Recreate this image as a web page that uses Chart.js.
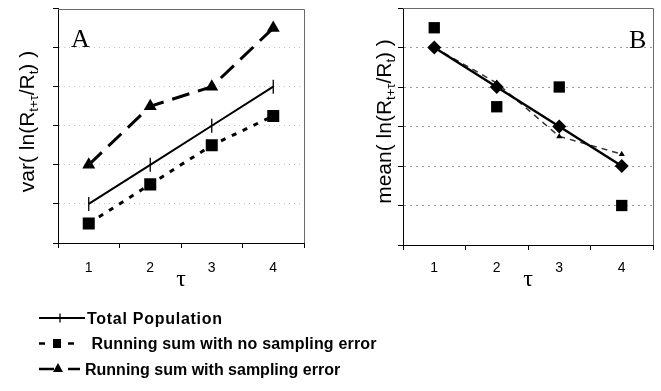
<!DOCTYPE html>
<html><head><meta charset="utf-8">
<script src="https://cdn.jsdelivr.net/npm/chart.js@4/dist/chart.umd.min.js"></script>
<style>
html,body{margin:0;padding:0;background:#fff}
body{width:661px;height:391px;overflow:hidden;position:relative}
#wa{position:absolute;left:0;top:0;width:330px;height:300px}
#wb{position:absolute;left:330px;top:0;width:331px;height:300px}
#leg{position:absolute;left:0;top:290px;width:661px;height:101px}
</style></head>
<body>
<div id="wa"><canvas id="ca"></canvas></div>
<div id="wb"><canvas id="cb"></canvas></div>
<svg id="leg" width="661" height="101" xmlns="http://www.w3.org/2000/svg">
  <g stroke="#000" fill="#000">
    <line x1="39" y1="28" x2="85" y2="28" stroke-width="2"/>
    <line x1="60" y1="23.5" x2="60" y2="32.5" stroke-width="1.3"/>
    <line x1="39" y1="53.5" x2="45" y2="53.5" stroke-width="2.5"/>
    <rect x="53" y="49" width="8" height="9" stroke="none"/>
    <line x1="68" y1="53.5" x2="74" y2="53.5" stroke-width="2.5"/>
    <line x1="39" y1="79" x2="54" y2="79" stroke-width="2.5"/>
    <polygon points="53,82 63,82 58,73" stroke="none"/>
    <line x1="68" y1="79" x2="80" y2="79" stroke-width="2.5"/>
  </g>
  <g font-family="Liberation Sans, Arial, sans-serif" font-weight="bold" font-size="16" fill="#000">
    <text x="87" y="33.5" textLength="135" lengthAdjust="spacing">Total Population</text>
    <text x="91.5" y="59" textLength="285" lengthAdjust="spacing">Running sum with no sampling error</text>
    <text x="85" y="84.5">Running sum with sampling error</text>
  </g>
</svg>
<script>
// ---- data ----
const tauLabels = ['1', '2', '3', '4'];
const varTotal = [1, 2, 3, 4];
const varNoErr = [0.5, 1.5, 2.5, 3.25];
const varWithErr = [2, 3.5, 4, 5.5];
const meanTotal = [5, 4, 3, 2];
const meanNoErr = [5.5, 3.5, 4, 1];
const meanWithErr = [5, 4.1, 2.75, 2.3];
const yMin = 0, yMax = 6, yStep = 1;
const titleVar = [['var( ln(R', 0], ['t+τ', 1], ['/R', 0], ['t', 1], [') )', 0]];
const titleMean = [['mean( ln(R', 0], ['t+τ', 1], ['/R', 0], ['t', 1], [') )', 0]];

const SANS = '"Liberation Sans", Arial, sans-serif';
const SERIF = '"Liberation Serif", "Times New Roman", serif';

const decor = {
  id: 'decor',
  beforeDatasetsDraw(chart, args, o) {
    const {ctx, chartArea: a} = chart;
    ctx.save();
    ctx.strokeStyle = '#6a6a6a';
    ctx.lineWidth = 1;
    ctx.beginPath();
    ctx.moveTo(a.left, Math.round(a.top) + 0.5);
    ctx.lineTo(Math.round(a.right) + 0.5, Math.round(a.top) + 0.5);
    ctx.lineTo(Math.round(a.right) + 0.5, a.bottom);
    ctx.stroke();
    ctx.restore();
  },
  afterDraw(chart, args, o) {
    const ctx = chart.ctx;
    ctx.save();
    ctx.fillStyle = '#000';
    ctx.font = '26px ' + SERIF;
    ctx.textAlign = 'left';
    ctx.textBaseline = 'alphabetic';
    ctx.fillText(o.letter, o.lx, o.ly);
    // rotated y title with subscripts
    const mainF = '21px ' + SANS, subF = '13px ' + SANS;
    let total = 0;
    const w = o.title.map(([t, s]) => { ctx.font = s ? subF : mainF; const m = ctx.measureText(t).width; total += m; return m; });
    ctx.translate(o.tx, o.ty);
    ctx.rotate(-Math.PI / 2);
    let x = -total / 2;
    o.title.forEach(([t, s], i) => {
      ctx.font = s ? subF : mainF;
      ctx.fillText(t, x, s ? 4 : 0);
      x += w[i];
    });
    ctx.restore();
  }
};

function makeChart(id, datasets, cfg) {
  return new Chart(document.getElementById(id), {
    type: 'line',
    data: {labels: tauLabels, datasets},
    plugins: [decor],
    options: {
      responsive: true,
      maintainAspectRatio: false,
      animation: false,
      events: [],
      layout: {padding: {top: 7, right: cfg.padRight, left: 0, bottom: 0}},
      plugins: {legend: {display: false}, tooltip: {enabled: false}, decor: cfg.decor},
      elements: {line: {tension: 0}},
      scales: {
        x: {
          type: 'category',
          offset: true,
          grid: {offset: true, drawOnChartArea: false, drawTicks: true, tickLength: 5, tickColor: '#000', tickBorderDash: []},
          border: {color: '#000', width: 1},
          ticks: {color: '#000', font: {family: SANS, size: 14}, padding: cfg.tickPad, maxRotation: 0},
          title: {display: true, text: 'τ', color: '#000', font: {family: SERIF, size: 24, lineHeight: 1.2}, padding: {top: 0, bottom: 5.6}},
          afterFit(s) { s.height = cfg.xH; }
        },
        y: {
          min: yMin, max: yMax,
          ticks: {stepSize: yStep, callback: () => '', padding: 0},
          grid: {
            drawTicks: true, tickLength: 5, tickColor: '#000', tickBorderDash: [],
            color: (c) => (c.tick && (c.tick.value === yMin || c.tick.value === yMax)) ? 'rgba(0,0,0,0)' : cfg.gridColor,
            lineWidth: 1
          },
          border: {color: '#000', width: 1, dash: cfg.gridDash},
          afterFit(s) { s.width = cfg.yW; }
        }
      }
    }
  });
}

const chartA = makeChart('ca', [
  {label: 'Total Population', data: varTotal, borderColor: '#000', borderWidth: 2, pointStyle: 'line', pointRotation: 90, pointRadius: 7, pointBorderWidth: 1.3, pointBorderColor: '#000', fill: false},
  {label: 'Running sum with no sampling error', data: varNoErr, borderColor: '#000', borderWidth: 3, borderDash: [5, 7], pointStyle: 'rect', pointRadius: 8.5, pointBackgroundColor: '#000', pointBorderColor: '#000', pointBorderWidth: 0, fill: false},
  {label: 'Running sum with sampling error', data: varWithErr, borderColor: '#000', borderWidth: 3, borderDash: [18, 9], pointStyle: 'triangle', pointRadius: 7.5, pointBackgroundColor: '#000', pointBorderColor: '#000', pointBorderWidth: 0, fill: false}
], {padRight: 26, xH: 57, yW: 58, tickPad: 12, gridColor: '#c4c4c4', gridDash: [1, 4],
    decor: {letter: 'A', lx: 71, ly: 47, title: titleVar, tx: 34, ty: 121.5}});

const chartB = makeChart('cb', [
  {label: 'Total Population', data: meanTotal, borderColor: '#000', borderWidth: 2.5, pointStyle: 'rectRot', pointRadius: 7, pointBackgroundColor: '#000', pointBorderColor: '#000', pointBorderWidth: 0, fill: false},
  {label: 'Running sum with sampling error', data: meanWithErr, borderColor: '#333', borderWidth: 1.5, borderDash: [6, 5], pointStyle: 'triangle', pointRadius: 3.5, pointBackgroundColor: '#000', pointBorderColor: '#000', pointBorderWidth: 0, fill: false},
  {label: 'Running sum with no sampling error', data: meanNoErr, showLine: false, pointStyle: 'rect', pointRadius: 8, pointBackgroundColor: '#000', pointBorderColor: '#000', pointBorderWidth: 0, fill: false}
], {padRight: 6, xH: 55, yW: 73, tickPad: 10, gridColor: '#9a9a9a', gridDash: [2, 4],
    decor: {letter: 'B', lx: 299, ly: 48, title: titleMean, tx: 61, ty: 121.5}});
</script>
</body></html>
